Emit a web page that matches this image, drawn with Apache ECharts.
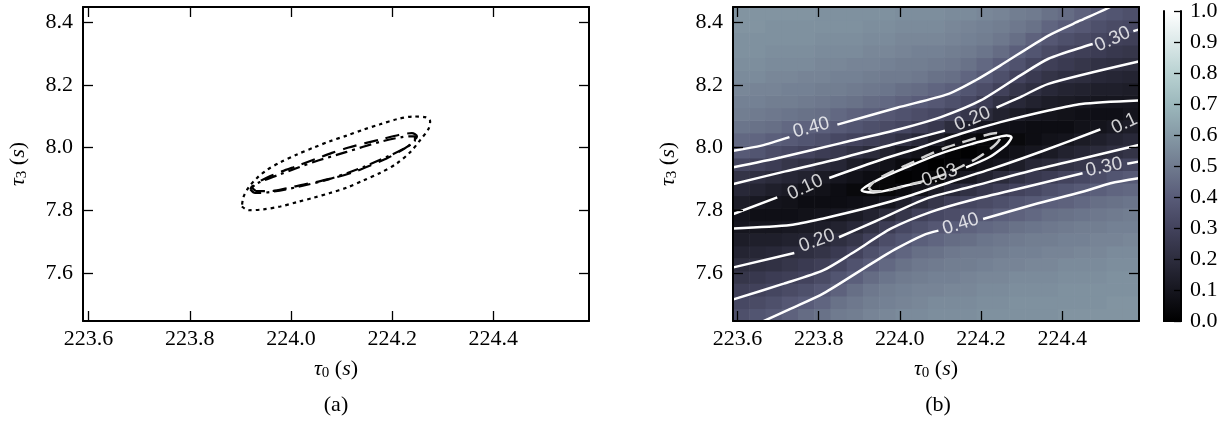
<!DOCTYPE html>
<html>
<head>
<meta charset="utf-8">
<script src="https://cdn.jsdelivr.net/npm/echarts@6/dist/echarts.min.js"></script>
<style>
  html, body { margin: 0; padding: 0; background: #ffffff; }
  #chart { width: 1229px; height: 426px; }
</style>
</head>
<body>
<div id="chart"></div>
<script>
// ---- axes: tau_0 horizontally, tau_3 vertically ----
const tau0Range = [223.589, 224.589];
const tau3Range = [7.447, 8.448];
const tau0Ticks = [223.6, 223.8, 224.0, 224.2, 224.4];
const tau3Ticks = [7.6, 7.8, 8.0, 8.2, 8.4];
const barTicks = [0.0, 0.1, 0.2, 0.3, 0.4, 0.5, 0.6, 0.7, 0.8, 0.9, 1.0];

// ---- panel (a): three confidence contours ----
const dottedContour = [
  [223.903,7.812],[223.916,7.800],[223.946,7.803],[223.979,7.812],[224.012,7.826],[224.045,7.840],
  [224.077,7.855],[224.110,7.872],[224.143,7.895],[224.176,7.919],[224.209,7.949],[224.236,7.986],
  [224.255,8.023],[224.272,8.060],[224.275,8.084],[224.265,8.097],[224.242,8.099],[224.209,8.090],
  [224.176,8.074],[224.143,8.057],[224.110,8.038],[224.077,8.020],[224.045,8.000],[224.012,7.978],
  [223.979,7.953],[223.952,7.928],[223.933,7.903],[223.916,7.872],[223.906,7.842],[223.903,7.812]
];
const dashedContour = [
  [223.923,7.872],[223.933,7.861],[223.959,7.861],[223.992,7.870],[224.025,7.882],[224.058,7.893],
  [224.091,7.906],[224.124,7.922],[224.157,7.943],[224.189,7.965],[224.216,7.989],[224.239,8.014],
  [224.249,8.036],[224.239,8.046],[224.213,8.040],[224.180,8.027],[224.147,8.014],[224.114,8.000],
  [224.081,7.983],[224.048,7.963],[224.015,7.943],[223.982,7.924],[223.952,7.904],[223.933,7.887],
  [223.923,7.872]
];
const dashDotContour = [
  [223.920,7.866],[223.929,7.855],[223.959,7.858],[224.012,7.874],[224.077,7.900],[224.143,7.938],
  [224.196,7.975],[224.229,8.002],[224.245,8.023],[224.245,8.036],[224.222,8.034],[224.176,8.018],
  [224.110,7.986],[224.045,7.954],[223.979,7.915],[223.939,7.890],[223.923,7.876],[223.920,7.866]
];

// ---- panel (b): mismatch surface ----
// cell centres along tau_0 and tau_3
const gridTau0 = [223.609,223.649,223.689,223.729,223.769,223.809,223.849,223.889,223.929,223.969,224.009,224.049,224.089,
                  224.129,224.169,224.209,224.249,224.289,224.329,224.369,224.409,224.449,224.489,224.529,224.569];
const gridTau3 = [7.467,7.507,7.547,7.587,7.627,7.667,7.707,7.747,7.787,7.827,7.867,7.907,7.947,
                  7.987,8.027,8.067,8.107,8.147,8.187,8.227,8.267,8.307,8.347,8.387,8.427];
// mismatch, one column per tau_0 value (left to right), each listed bottom to top
const mismatchColumns = [
  [0.35,0.32,0.28,0.24,0.20,0.16,0.13,0.10,0.09,0.13,0.18,0.23,0.31,0.39,0.44,0.48,0.51,0.52,0.54,0.55,0.56,0.57,0.57,0.58,0.58],
  [0.37,0.33,0.29,0.25,0.21,0.17,0.14,0.10,0.07,0.11,0.16,0.21,0.29,0.37,0.43,0.47,0.50,0.52,0.53,0.55,0.56,0.57,0.57,0.58,0.58],
  [0.39,0.35,0.31,0.27,0.22,0.18,0.14,0.10,0.07,0.09,0.14,0.19,0.27,0.34,0.41,0.46,0.49,0.51,0.53,0.54,0.55,0.56,0.57,0.57,0.58],
  [0.42,0.38,0.33,0.28,0.24,0.20,0.15,0.11,0.07,0.08,0.12,0.17,0.24,0.32,0.39,0.44,0.48,0.51,0.52,0.54,0.55,0.56,0.57,0.57,0.58],
  [0.45,0.40,0.35,0.30,0.26,0.21,0.16,0.12,0.08,0.06,0.09,0.15,0.22,0.30,0.37,0.42,0.47,0.50,0.52,0.53,0.55,0.56,0.57,0.57,0.58],
  [0.47,0.43,0.38,0.33,0.28,0.23,0.18,0.13,0.09,0.06,0.08,0.12,0.19,0.27,0.35,0.41,0.46,0.49,0.51,0.53,0.54,0.55,0.56,0.57,0.57],
  [0.50,0.47,0.42,0.37,0.31,0.26,0.21,0.15,0.10,0.06,0.06,0.10,0.17,0.25,0.32,0.39,0.44,0.48,0.51,0.52,0.54,0.55,0.56,0.57,0.57],
  [0.51,0.49,0.46,0.41,0.36,0.30,0.24,0.18,0.12,0.07,0.04,0.08,0.13,0.22,0.30,0.37,0.42,0.47,0.50,0.52,0.53,0.55,0.56,0.57,0.57],
  [0.53,0.51,0.49,0.45,0.40,0.35,0.29,0.22,0.15,0.08,0.03,0.06,0.10,0.19,0.28,0.35,0.41,0.45,0.49,0.51,0.53,0.54,0.55,0.56,0.57],
  [0.54,0.52,0.51,0.48,0.44,0.39,0.34,0.27,0.19,0.10,0.03,0.03,0.08,0.15,0.25,0.33,0.38,0.44,0.48,0.50,0.52,0.54,0.55,0.56,0.57],
  [0.55,0.53,0.52,0.50,0.47,0.43,0.37,0.32,0.24,0.14,0.05,0.01,0.05,0.11,0.22,0.31,0.36,0.42,0.46,0.50,0.51,0.53,0.54,0.55,0.56],
  [0.55,0.54,0.53,0.51,0.49,0.46,0.41,0.35,0.29,0.20,0.08,0.02,0.02,0.08,0.18,0.28,0.34,0.40,0.45,0.49,0.51,0.52,0.54,0.55,0.56],
  [0.56,0.55,0.53,0.52,0.50,0.47,0.43,0.38,0.32,0.24,0.13,0.03,0.00,0.05,0.13,0.25,0.32,0.38,0.43,0.47,0.50,0.52,0.54,0.55,0.56],
  [0.56,0.55,0.54,0.52,0.51,0.49,0.45,0.40,0.34,0.28,0.18,0.08,0.02,0.02,0.08,0.20,0.29,0.35,0.41,0.46,0.49,0.51,0.53,0.54,0.55],
  [0.56,0.55,0.54,0.53,0.51,0.50,0.46,0.42,0.36,0.31,0.22,0.11,0.05,0.01,0.05,0.14,0.24,0.32,0.37,0.43,0.47,0.50,0.52,0.53,0.55],
  [0.57,0.56,0.55,0.54,0.52,0.50,0.48,0.44,0.38,0.33,0.25,0.15,0.08,0.03,0.03,0.10,0.19,0.27,0.34,0.39,0.44,0.48,0.51,0.52,0.54],
  [0.57,0.56,0.55,0.54,0.53,0.51,0.49,0.45,0.41,0.35,0.28,0.19,0.10,0.06,0.03,0.08,0.15,0.22,0.29,0.35,0.40,0.45,0.49,0.51,0.53],
  [0.57,0.57,0.56,0.55,0.53,0.52,0.50,0.47,0.42,0.37,0.30,0.22,0.13,0.08,0.04,0.07,0.12,0.18,0.24,0.30,0.36,0.41,0.46,0.49,0.51],
  [0.57,0.57,0.56,0.55,0.54,0.52,0.51,0.48,0.44,0.39,0.32,0.25,0.17,0.10,0.06,0.06,0.10,0.15,0.21,0.26,0.31,0.37,0.42,0.47,0.50],
  [0.57,0.57,0.56,0.55,0.54,0.53,0.51,0.49,0.46,0.41,0.35,0.27,0.19,0.12,0.08,0.06,0.09,0.13,0.18,0.23,0.28,0.33,0.38,0.43,0.47],
  [0.58,0.57,0.57,0.56,0.55,0.53,0.52,0.50,0.47,0.42,0.37,0.30,0.22,0.15,0.09,0.06,0.08,0.12,0.16,0.21,0.26,0.30,0.35,0.40,0.45],
  [0.58,0.57,0.57,0.56,0.55,0.54,0.52,0.51,0.48,0.44,0.39,0.32,0.24,0.17,0.12,0.08,0.07,0.11,0.15,0.20,0.24,0.28,0.33,0.38,0.42],
  [0.58,0.57,0.57,0.56,0.55,0.54,0.53,0.51,0.49,0.46,0.41,0.34,0.27,0.19,0.14,0.09,0.07,0.10,0.14,0.18,0.22,0.27,0.31,0.35,0.39],
  [0.58,0.58,0.57,0.57,0.56,0.55,0.53,0.52,0.50,0.47,0.43,0.37,0.29,0.21,0.16,0.11,0.07,0.10,0.14,0.17,0.21,0.25,0.29,0.33,0.37],
  [0.58,0.58,0.57,0.57,0.56,0.55,0.54,0.52,0.51,0.48,0.44,0.39,0.31,0.23,0.18,0.13,0.09,0.10,0.13,0.16,0.20,0.24,0.28,0.32,0.35]
];

// iso-mismatch lines, each split where its inline label sits
const iso040 = [
  [[223.590,7.990],[223.659,8.006],[223.728,8.033]],
  [[223.846,8.073],[223.993,8.127],[224.120,8.171],[224.189,8.216],[224.248,8.262],[224.366,8.357],[224.445,8.405],[224.518,8.448],[224.530,8.460]],
  [[224.588,7.902],[224.519,7.886],[224.450,7.859],[224.332,7.819],[224.205,7.772]],
  [[224.095,7.735],[224.058,7.721],[223.989,7.676],[223.930,7.630],[223.812,7.535],[223.733,7.487],[223.660,7.444]]
];
const iso030 = [
  [[223.590,7.937],[223.708,7.969],[223.855,8.014],[224.003,8.060],[224.101,8.097],[224.199,8.150],[224.297,8.230],[224.366,8.283],[224.464,8.326],[224.475,8.330]],
  [[224.575,8.371],[224.588,8.376]],
  [[224.588,7.955],[224.560,7.948]],
  [[224.450,7.918],[224.323,7.878],[224.175,7.832],[224.077,7.795],[223.979,7.742],[223.881,7.662],[223.812,7.609],[223.714,7.566],[223.590,7.516]]
];
const iso020 = [
  [[223.590,7.884],[223.718,7.924],[223.855,7.966],[224.003,8.017],[224.111,8.054]],
  [[224.238,8.127],[224.297,8.161],[224.366,8.203],[224.588,8.274]],
  [[223.590,7.618],[223.740,7.664]],
  [[223.850,7.714],[223.940,7.765],[224.067,7.838],[224.175,7.875],[224.323,7.926],[224.460,7.968],[224.588,8.008]]
];
const iso010 = [
  [[223.590,7.788],[223.698,7.841]],
  [[223.826,7.903],[223.954,7.961],[224.052,8.001],[224.150,8.044],[224.248,8.081],[224.366,8.118],[224.447,8.139],[224.588,8.150]],
  [[223.590,7.742],[223.731,7.753],[223.812,7.774],[223.930,7.811],[224.028,7.848],[224.126,7.891],[224.224,7.931],[224.352,7.989],[224.480,8.051],[224.494,8.058]]
];
const iso003 = [
  [[224.163,7.937],[224.220,7.969],[224.260,8.006],[224.268,8.017],[224.275,8.033],[224.263,8.038],[224.236,8.031],[224.179,8.012],[224.098,7.980],[224.016,7.937],[223.951,7.900],[223.906,7.863],[223.935,7.857],[224.016,7.879],[224.053,7.889]]
];
const isoLabels = [
  { text: '0.40', at: [223.782, 8.063], angle: 15 },
  { text: '0.40', at: [224.150, 7.756], angle: 17 },
  { text: '0.30', at: [224.524, 8.345], angle: 25 },
  { text: '0.30', at: [224.503, 7.937], angle: 12 },
  { text: '0.20', at: [224.179, 8.091], angle: 23 },
  { text: '0.20', at: [223.796, 7.703], angle: 20 },
  { text: '0.10', at: [223.767, 7.873], angle: 25 },
  { text: '0.10', at: [224.553, 8.076], angle: 25, cut: true },
  { text: '0.03', at: [224.098, 7.911], angle: 19 }
];

// matplotlib "bone" colormap sampled every 0.1
const bone = ['#000000','#16161f','#2d2d3e','#43435d','#595c79','#707b8f','#869aa6','#9cb8bc','#b9d2d2','#dce9e9','#ffffff'];

const SERIF = 'Liberation Serif';
const SANS = 'Liberation Sans';

function joinSegments(segs) {
  const out = [];
  segs.forEach((s, k) => {
    if (k > 0) out.push([NaN, NaN]);
    s.forEach(p => out.push(p));
  });
  return out;
}

const richName = {
  i: { fontFamily: SERIF, fontStyle: 'italic', fontSize: 22, color: '#000' },
  s: { fontFamily: SERIF, fontSize: 15, color: '#000', padding: [8, 0, 0, 0] },
  r: { fontFamily: SERIF, fontSize: 22, color: '#000' }
};
const tickLabel = { color: '#000', fontFamily: SERIF, fontSize: 22 };

function valueAxis(dim, gridIndex, position, range, ticks, withLabels, extra) {
  const ax = {
    type: 'value', gridIndex, position, min: range[0], max: range[1], z: 10,
    axisLine: { show: true, onZero: false, lineStyle: { color: '#000', width: 2 } },
    axisTick: { show: true, inside: true, length: 10, customValues: ticks, lineStyle: { color: '#000', width: 1.3 } },
    axisLabel: Object.assign({ show: withLabels, customValues: ticks, formatter: v => Number(v).toFixed(1),
      margin: dim === 'x' ? 7 : 10 }, tickLabel),
    splitLine: { show: false }
  };
  return Object.assign(ax, extra || {});
}

const xName = { name: '{i|τ}{s|0}{r| (}{i|s}{r|)}', nameLocation: 'middle', nameGap: 37, nameTextStyle: { rich: richName } };
const yName = { name: '{i|τ}{s|3}{r| (}{i|s}{r|)}', nameLocation: 'middle', nameGap: 53, nameTextStyle: { rich: richName } };

const xAxes = [
  valueAxis('x', 0, 'bottom', tau0Range, tau0Ticks, true, xName),
  valueAxis('x', 0, 'top', tau0Range, tau0Ticks, false),
  valueAxis('x', 1, 'bottom', tau0Range, tau0Ticks, true, xName),
  valueAxis('x', 1, 'top', tau0Range, tau0Ticks, false),
  { type: 'category', gridIndex: 2, position: 'bottom', data: [''], z: 10,
    axisLine: { show: true, lineStyle: { color: '#000', width: 2 } }, axisTick: { show: false }, axisLabel: { show: false } },
  { type: 'category', gridIndex: 2, position: 'top', data: [''], z: 10,
    axisLine: { show: true, lineStyle: { color: '#000', width: 2 } }, axisTick: { show: false }, axisLabel: { show: false } }
];
const yAxes = [
  valueAxis('y', 0, 'left', tau3Range, tau3Ticks, true, yName),
  valueAxis('y', 0, 'right', tau3Range, tau3Ticks, false),
  valueAxis('y', 1, 'left', tau3Range, tau3Ticks, true, yName),
  valueAxis('y', 1, 'right', tau3Range, tau3Ticks, false),
  { type: 'value', gridIndex: 2, position: 'left', min: 0, max: 1, z: 10,
    axisLine: { show: true, lineStyle: { color: '#000', width: 2 } }, axisTick: { show: false }, axisLabel: { show: false }, splitLine: { show: false } },
  { type: 'value', gridIndex: 2, position: 'right', min: 0, max: 1, z: 10,
    axisLine: { show: true, lineStyle: { color: '#000', width: 2 } },
    axisTick: { show: true, inside: true, length: 7, customValues: barTicks, lineStyle: { color: '#000', width: 1.3 } },
    axisLabel: Object.assign({ show: true, customValues: barTicks, formatter: v => Number(v).toFixed(1), margin: 9 }, tickLabel),
    splitLine: { show: false } }
];

function lineSeries(segs, xi, yi, color, type, width, z, smooth) {
  return {
    type: 'line', xAxisIndex: xi, yAxisIndex: yi, data: joinSegments(segs),
    showSymbol: false, symbol: 'none', connectNulls: false, clip: true, silent: true,
    smooth: smooth || false, z: z,
    lineStyle: { color: color, width: width, type: type }
  };
}

const heatData = [];
mismatchColumns.forEach((col, i) => col.forEach((v, j) => heatData.push([gridTau0[i], gridTau3[j], v])));
const cellW = gridTau0[1] - gridTau0[0];
const cellH = gridTau3[1] - gridTau3[0];

const series = [
  // (a)
  lineSeries([dottedContour], 0, 0, '#000', [3.5, 4], 2.2, 3, 0.3),
  lineSeries([dashedContour], 0, 0, '#000', [14, 8], 2.2, 3, 0.3),
  lineSeries([dashDotContour], 0, 0, '#000', [12, 5, 3, 5], 2.2, 3, 0.3),
  // (b) surface
  {
    type: 'custom', xAxisIndex: 2, yAxisIndex: 2, data: heatData, clip: true, silent: true, z: 1,
    encode: { x: 0, y: 1 },
    renderItem: function (params, api) {
      const x = api.value(0), y = api.value(1);
      const p0 = api.coord([x - cellW / 2, y + cellH / 2]);
      const p1 = api.coord([x + cellW / 2, y - cellH / 2]);
      return { type: 'rect', shape: { x: p0[0], y: p0[1], width: p1[0] - p0[0] + 0.6, height: p1[1] - p0[1] + 0.6 },
        style: { fill: api.visual('color') } };
    }
  },
  lineSeries(iso040, 2, 2, '#ffffff', 'solid', 2.5, 3, 0.25),
  lineSeries(iso030, 2, 2, '#ffffff', 'solid', 2.5, 3, 0.25),
  lineSeries(iso020, 2, 2, '#ffffff', 'solid', 2.5, 3, 0.25),
  lineSeries(iso010, 2, 2, '#ffffff', 'solid', 2.5, 3, 0.25),
  lineSeries(iso003, 2, 2, '#ffffff', 'solid', 2.5, 3, 0.3),
  lineSeries([dashedContour], 2, 2, '#d2d2d2', [14, 8], 2.5, 4, 0.3),
  {
    type: 'scatter', xAxisIndex: 2, yAxisIndex: 2, symbolSize: 1, silent: true, z: 6,
    itemStyle: { color: 'rgba(0,0,0,0)' },
    label: { show: true, position: 'inside', formatter: p => p.name, color: '#ffffff', fontFamily: SANS, fontSize: 19 },
    data: isoLabels.map(l => ({
      name: l.text, value: l.at,
      label: Object.assign({ rotate: l.angle }, l.cut ? { width: 30, overflow: 'truncate', ellipsis: '' } : {})
    }))
  },
  // colour bar
  {
    type: 'bar', xAxisIndex: 4, yAxisIndex: 5, data: [1], barWidth: '100%', silent: true, z: 2,
    itemStyle: { color: new echarts.graphic.LinearGradient(0, 1, 0, 0, bone.map((c, k) => ({ offset: k / (bone.length - 1), color: c }))) }
  }
];

const chart = echarts.init(document.getElementById('chart'), null, { renderer: 'canvas', width: 1229, height: 426 });
chart.setOption({
  animation: false,
  backgroundColor: '#ffffff',
  title: [
    { text: '(a)', left: 336, top: 394, textAlign: 'center', padding: 0,
      textStyle: { fontFamily: SERIF, fontSize: 22, fontWeight: 'normal', color: '#000' } },
    { text: '(b)', left: 938, top: 394, textAlign: 'center', padding: 0,
      textStyle: { fontFamily: SERIF, fontSize: 22, fontWeight: 'normal', color: '#000' } }
  ],
  grid: [
    { left: 83, top: 7, width: 506, height: 314, containLabel: false },
    { left: 733, top: 7, width: 406, height: 314, containLabel: false },
    { left: 1164, top: 7, width: 17, height: 314, containLabel: false }
  ],
  visualMap: { type: 'continuous', show: false, min: 0, max: 1, dimension: 2, seriesIndex: 3, inRange: { color: bone } },
  xAxis: xAxes,
  yAxis: yAxes,
  series: series
});
</script>
</body>
</html>
